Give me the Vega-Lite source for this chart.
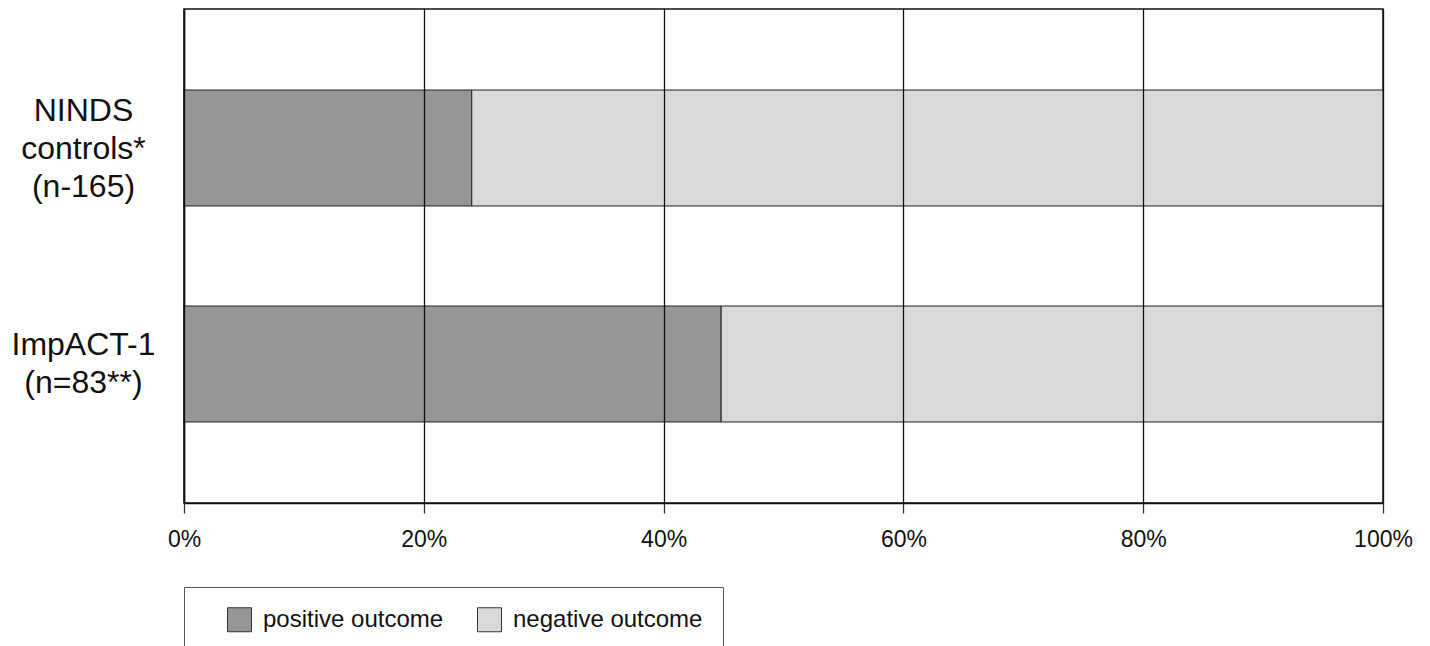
{
  "$schema": "https://vega.github.io/schema/vega-lite/v6.json",
  "autosize": "none",
  "padding": {"left": 184, "top": 9, "right": 47, "bottom": 143},
  "width": 1199,
  "height": 494,
  "background": "white",
  "config": {
    "view": {"stroke": "#111", "strokeWidth": 1.5},
    "font": "Liberation Sans"
  },
  "data": {
    "values": [
      {"group": "NINDS|controls*|(n-165)", "outcome": "positive outcome", "rank": 1, "pct": 24},
      {"group": "NINDS|controls*|(n-165)", "outcome": "negative outcome", "rank": 2, "pct": 76},
      {"group": "ImpACT-1|(n=83**)", "outcome": "positive outcome", "rank": 1, "pct": 44.8},
      {"group": "ImpACT-1|(n=83**)", "outcome": "negative outcome", "rank": 2, "pct": 55.2}
    ]
  },
  "mark": {"type": "bar", "stroke": "#222", "strokeWidth": 1},
  "encoding": {
    "y": {
      "field": "group",
      "type": "nominal",
      "sort": ["NINDS|controls*|(n-165)", "ImpACT-1|(n=83**)"],
      "scale": {"paddingInner": 0.463, "paddingOuter": 0.375},
      "axis": {
        "title": null,
        "ticks": false,
        "domainColor": "#111",
        "domainWidth": 1.5,
        "labelExpr": "split(datum.label, '|')",
        "labelAlign": "center",
        "labelBaseline": "middle",
        "labelPadding": 101,
        "labelOffset": {"condition": {"test": "indexof(datum.value, 'NINDS') == 0", "value": -37}, "value": -19},
        "labelFontSize": 32,
        "labelLineHeight": 38,
        "labelColor": "#111",
        "labelLimit": 300
      }
    },
    "x": {
      "field": "pct",
      "type": "quantitative",
      "stack": "zero",
      "scale": {"domain": [0, 100], "nice": false},
      "axis": {
        "title": null,
        "values": [0, 20, 40, 60, 80, 100],
        "labelExpr": "datum.value + '%'",
        "grid": true,
        "gridColor": "#111",
        "gridWidth": 1.3,
        "gridOpacity": 1,
        "zindex": 1,
        "domainColor": "#111",
        "domainWidth": 1.5,
        "tickColor": "#333",
        "tickSize": 10,
        "tickWidth": 1.3,
        "labelPadding": 15,
        "labelFontSize": 23,
        "labelColor": "#111",
        "labelFlush": false
      }
    },
    "color": {
      "field": "outcome",
      "type": "nominal",
      "scale": {
        "domain": ["positive outcome", "negative outcome"],
        "range": ["#969696", "#d9d9d9"]
      },
      "legend": {
        "title": null,
        "orient": "none",
        "legendX": 0,
        "legendY": 578,
        "direction": "horizontal",
        "symbolType": "square",
        "symbolSize": 576,
        "symbolStrokeColor": "#333",
        "symbolStrokeWidth": 1,
        "symbolOffset": 23,
        "labelFontSize": 24,
        "labelColor": "#111",
        "labelOffset": 11,
        "columnPadding": 10,
        "padding": 20,
        "strokeColor": "#555",
        "fillColor": "white",
        "cornerRadius": 0,
        "labelLimit": 300
      }
    },
    "order": {"field": "rank", "type": "quantitative"}
  }
}
